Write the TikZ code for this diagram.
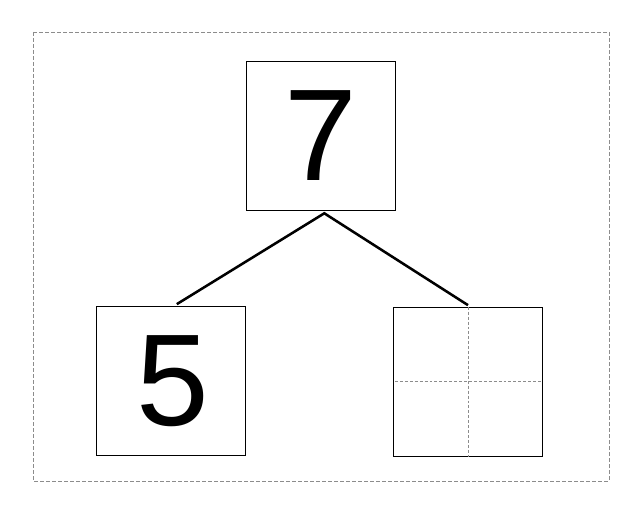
\documentclass[tikz,border=0pt]{standalone}
\usepackage{fontspec}
\setmainfont{Liberation Sans}
\usetikzlibrary{positioning}
\definecolor{framegray}{rgb}{0.55,0.55,0.55}

\tikzset{
	numbox/.style={draw=black, line width=0.8pt, minimum size=111.75pt, inner sep=0pt, font=\fontsize{98}{100}\selectfont},
	branch/.style={line width=1.9pt},
	guide/.style={framegray, line width=0.6pt, dash pattern=on 2.2pt off 1.5pt}
}

\begin{document}
\begin{tikzpicture}[x=0.75pt,y=-0.75pt]
\useasboundingbox (0,0) rectangle (642,513);
\draw[framegray, line width=0.6pt, dash pattern=on 3pt off 1.5pt] (33,32) rectangle (609,481);

% whole and parts
\node[numbox] (whole) at (320.7,135.6) {7};
\node[numbox] (partA) at (170.8,380.8) {};
\node[font=\fontsize{98}{100}\selectfont, inner sep=0pt] (five) at ([xshift=1.5pt]partA.center) {5};
\node[numbox] (partB) at (468,381.8) {};

% helper lines in the empty box
\draw[guide] (partB.north) -- (partB.south);
\draw[guide] ([xshift=1.5pt]partB.west) -- ([xshift=-1.5pt]partB.east);

% branches
\coordinate (apex) at ([xshift=2.7pt,yshift=-2pt]whole.south);
\draw[branch] ([xshift=4.5pt,yshift=1.2pt]partA.north) -- (apex) -- ([yshift=1.2pt]partB.north);
\end{tikzpicture}
\end{document}
